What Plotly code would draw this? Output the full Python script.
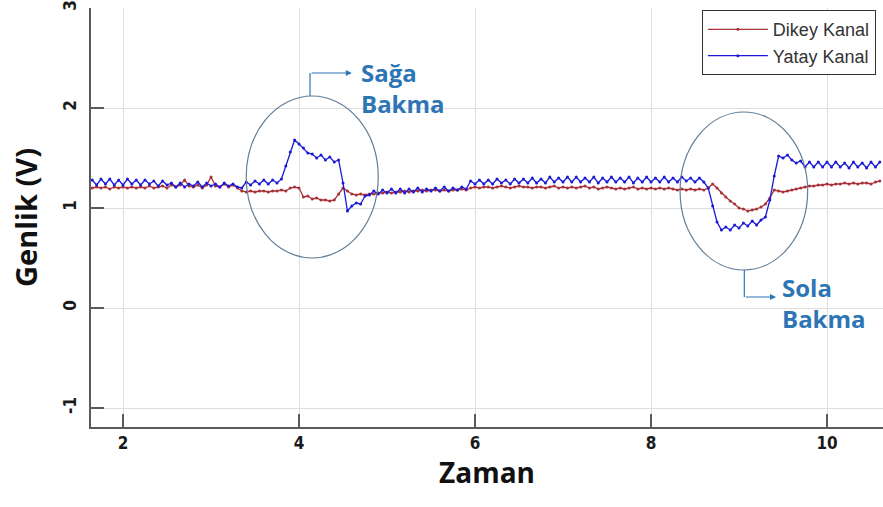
import plotly.graph_objects as go

# Sample times (s)
zaman = [
    1.65, 1.70, 1.75, 1.80, 1.85, 1.90, 1.95, 2.00, 2.05, 2.10,
    2.15, 2.20, 2.25, 2.30, 2.35, 2.40, 2.45, 2.50, 2.55, 2.60,
    2.65, 2.70, 2.75, 2.80, 2.85, 2.90, 2.95, 3.00, 3.05, 3.10,
    3.15, 3.20, 3.25, 3.30, 3.35, 3.40, 3.45, 3.50, 3.55, 3.60,
    3.65, 3.70, 3.75, 3.80, 3.85, 3.90, 3.95, 4.00, 4.05, 4.10,
    4.15, 4.20, 4.25, 4.30, 4.35, 4.40, 4.45, 4.50, 4.55, 4.60,
    4.65, 4.70, 4.75, 4.80, 4.85, 4.90, 4.95, 5.00, 5.05, 5.10,
    5.15, 5.20, 5.25, 5.30, 5.35, 5.40, 5.45, 5.50, 5.55, 5.60,
    5.65, 5.70, 5.75, 5.80, 5.85, 5.90, 5.95, 6.00, 6.05, 6.10,
    6.15, 6.20, 6.25, 6.30, 6.35, 6.40, 6.45, 6.50, 6.55, 6.60,
    6.65, 6.70, 6.75, 6.80, 6.85, 6.90, 6.95, 7.00, 7.05, 7.10,
    7.15, 7.20, 7.25, 7.30, 7.35, 7.40, 7.45, 7.50, 7.55, 7.60,
    7.65, 7.70, 7.75, 7.80, 7.85, 7.90, 7.95, 8.00, 8.05, 8.10,
    8.15, 8.20, 8.25, 8.30, 8.35, 8.40, 8.45, 8.50, 8.55, 8.60,
    8.65, 8.70, 8.75, 8.80, 8.85, 8.90, 8.95, 9.00, 9.05, 9.10,
    9.15, 9.20, 9.25, 9.30, 9.35, 9.40, 9.45, 9.50, 9.55, 9.60,
    9.65, 9.70, 9.75, 9.80, 9.85, 9.90, 9.95, 10.00, 10.05, 10.10,
    10.15, 10.20, 10.25, 10.30, 10.35, 10.40, 10.45, 10.50, 10.55, 10.60,
]

# Horizontal channel (V)
yatay_kanal = [
    1.28, 1.23, 1.29, 1.24, 1.29, 1.23, 1.28, 1.23, 1.29, 1.24,
    1.28, 1.23, 1.28, 1.24, 1.27, 1.22, 1.27, 1.23, 1.25, 1.21,
    1.25, 1.21, 1.24, 1.22, 1.26, 1.21, 1.25, 1.22, 1.24, 1.21,
    1.25, 1.22, 1.24, 1.21, 1.20, 1.26, 1.23, 1.27, 1.24, 1.28,
    1.24, 1.28, 1.25, 1.29, 1.42, 1.56, 1.68, 1.64, 1.60, 1.55,
    1.54, 1.50, 1.53, 1.48, 1.51, 1.46, 1.48, 1.25, 0.97, 1.02,
    1.05, 1.04, 1.12, 1.13, 1.17, 1.14, 1.18, 1.15, 1.19, 1.15,
    1.19, 1.15, 1.19, 1.16, 1.20, 1.16, 1.19, 1.17, 1.20, 1.17,
    1.21, 1.17, 1.20, 1.18, 1.21, 1.19, 1.27, 1.24, 1.28, 1.24,
    1.28, 1.24, 1.29, 1.25, 1.28, 1.24, 1.29, 1.25, 1.29, 1.25,
    1.30, 1.25, 1.29, 1.25, 1.31, 1.26, 1.30, 1.26, 1.31, 1.26,
    1.31, 1.26, 1.30, 1.26, 1.31, 1.25, 1.30, 1.26, 1.31, 1.26,
    1.30, 1.26, 1.31, 1.25, 1.30, 1.26, 1.31, 1.26, 1.30, 1.26,
    1.31, 1.26, 1.30, 1.26, 1.31, 1.27, 1.30, 1.26, 1.30, 1.26,
    1.20, 1.02, 0.86, 0.78, 0.81, 0.78, 0.83, 0.80, 0.85, 0.82,
    0.87, 0.83, 0.88, 0.91, 1.08, 1.32, 1.52, 1.50, 1.53, 1.48,
    1.45, 1.47, 1.41, 1.46, 1.41, 1.46, 1.41, 1.46, 1.41, 1.46,
    1.41, 1.45, 1.40, 1.46, 1.41, 1.45, 1.40, 1.46, 1.41, 1.46,
]

# Vertical channel (V)
dikey_kanal = [
    1.20, 1.21, 1.20, 1.21, 1.19, 1.21, 1.20, 1.21, 1.20, 1.21,
    1.20, 1.21, 1.20, 1.22, 1.20, 1.21, 1.22, 1.20, 1.23, 1.21,
    1.23, 1.28, 1.22, 1.21, 1.23, 1.20, 1.23, 1.31, 1.22, 1.21,
    1.24, 1.21, 1.23, 1.20, 1.17, 1.16, 1.17, 1.16, 1.17, 1.17,
    1.16, 1.17, 1.17, 1.18, 1.17, 1.20, 1.21, 1.20, 1.11, 1.12,
    1.09, 1.10, 1.08, 1.08, 1.07, 1.08, 1.14, 1.20, 1.17, 1.14,
    1.13, 1.14, 1.13, 1.14, 1.14, 1.15, 1.15, 1.16, 1.15, 1.16,
    1.16, 1.17, 1.16, 1.17, 1.17, 1.18, 1.17, 1.18, 1.18, 1.17,
    1.18, 1.17, 1.18, 1.18, 1.19, 1.18, 1.20, 1.21, 1.20, 1.21,
    1.21, 1.20, 1.21, 1.22, 1.21, 1.20, 1.21, 1.22, 1.21, 1.21,
    1.20, 1.21, 1.21, 1.20, 1.21, 1.22, 1.20, 1.21, 1.20, 1.21,
    1.20, 1.21, 1.22, 1.20, 1.21, 1.19, 1.20, 1.21, 1.20, 1.19,
    1.20, 1.19, 1.20, 1.21, 1.19, 1.20, 1.19, 1.20, 1.19, 1.20,
    1.19, 1.20, 1.19, 1.18, 1.19, 1.18, 1.19, 1.18, 1.19, 1.18,
    1.20, 1.24, 1.20, 1.15, 1.11, 1.07, 1.04, 1.00, 0.99, 0.97,
    0.98, 0.99, 1.01, 1.04, 1.10, 1.18, 1.17, 1.16, 1.17, 1.18,
    1.19, 1.20, 1.21, 1.22, 1.22, 1.23, 1.23, 1.24, 1.23, 1.24,
    1.24, 1.25, 1.24, 1.25, 1.24, 1.25, 1.25, 1.24, 1.26, 1.27,
]

x_ticks = [2, 4, 6, 8, 10]
y_ticks = [-1, 0, 1, 2, 3]
y_tick_labels = ["-1", "0", "1", "2", "3"]

RED = "#A8323A"
BLUE = "#1A1AD6"
NOTE = "#2E75B6"
RING = "#627D96"

fig = go.Figure()
fig.add_trace(go.Scatter(
    x=zaman, y=dikey_kanal, name="Dikey Kanal", mode="lines+markers",
    line=dict(color=RED, width=1.3), marker=dict(color=RED, size=3),
))
fig.add_trace(go.Scatter(
    x=zaman, y=yatay_kanal, name="Yatay Kanal", mode="lines+markers",
    line=dict(color=BLUE, width=1.3), marker=dict(color=BLUE, size=3),
))

# Ellipses
fig.add_shape(type="circle", xref="x", yref="y", x0=3.40, x1=4.90, y0=0.50, y1=2.12,
              line=dict(color=RING, width=1.2))
fig.add_shape(type="circle", xref="x", yref="y", x0=8.33, x1=9.78, y0=0.38, y1=1.96,
              line=dict(color=RING, width=1.2))
# Connector lines
fig.add_shape(type="line", xref="x", yref="y", x0=4.125, x1=4.125, y0=2.12, y1=2.35,
              line=dict(color=NOTE, width=1.2))
fig.add_shape(type="line", xref="x", yref="y", x0=9.06, x1=9.06, y0=0.38, y1=0.11,
              line=dict(color=NOTE, width=1.2))
fig.add_annotation(x=4.60, y=2.35, ax=4.125, ay=2.35, axref="x", ayref="y", xref="x", yref="y",
                   text="", showarrow=True, arrowhead=2, arrowsize=1, arrowwidth=1.2, arrowcolor=NOTE)
fig.add_annotation(x=9.42, y=0.11, ax=9.06, ay=0.11, axref="x", ayref="y", xref="x", yref="y",
                   text="", showarrow=True, arrowhead=2, arrowsize=1, arrowwidth=1.2, arrowcolor=NOTE)

fig.add_annotation(x=4.68, y=2.20, xref="x", yref="y", xanchor="left", yanchor="middle",
                   text="<b>Sağa<br>Bakma</b>", showarrow=False, align="left",
                   font=dict(family="Open Sans", size=24, color=NOTE))
fig.add_annotation(x=9.46, y=0.05, xref="x", yref="y", xanchor="left", yanchor="middle",
                   text="<b>Sola<br>Bakma</b>", showarrow=False, align="left",
                   font=dict(family="Open Sans", size=24, color=NOTE))

axis_common = dict(
    showline=True, linecolor="#5a5a5a", linewidth=2,
    ticks="inside", ticklen=13, tickwidth=1.5, tickcolor="#5a5a5a",
    showgrid=True, gridcolor="#dedede", gridwidth=1, zeroline=False,
    tickfont=dict(family="DejaVu Sans Condensed", size=17, color="#1a1a1a", weight="bold"),
    mirror=False, automargin=False,
)

fig.update_layout(
    width=883, height=507,
    margin=dict(l=91, r=0, t=8, b=80, autoexpand=False),
    plot_bgcolor="white", paper_bgcolor="white",
    xaxis=dict(range=[1.636, 10.636], tickvals=x_ticks,
               title=dict(text="<b>Zaman</b>", font=dict(family="Open Sans", size=28, color="#111"), standoff=10),
               **axis_common),
    yaxis=dict(range=[-1.19, 3.0], tickvals=y_ticks, ticktext=y_tick_labels, tickangle=-90,
               ticklabelstandoff=6,
               title=dict(text="<b>Genlik (V)</b>", font=dict(family="Open Sans", size=29, color="#111"), standoff=14),
               **axis_common),
    legend=dict(x=0.991, y=0.995, xanchor="right", yanchor="top",
                bgcolor="white", bordercolor="#333", borderwidth=1,
                font=dict(family="Liberation Sans", size=18, color="#333"),
                itemwidth=60, tracegroupgap=0),
    showlegend=True,
)

fig.write_html("out.html", config={"displayModeBar": False},
               post_script="document.body.style.margin='0';document.body.style.overflow='hidden';")
